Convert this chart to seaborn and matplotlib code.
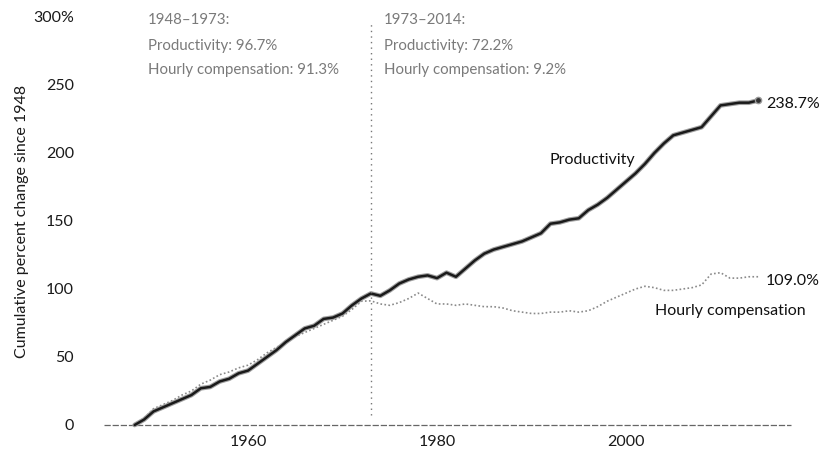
import numpy as np
import pandas as pd
import matplotlib
matplotlib.use('Agg')
import matplotlib.pyplot as plt
import seaborn as sns

years = list(range(1948, 2015))

productivity = [0, 4, 10, 13, 16, 19, 22, 27, 28, 32, 34, 38, 40, 45, 50, 55, 61, 66, 71, 73,
                78, 79, 82, 88, 93, 96.7, 95, 99, 104, 107, 109, 110, 108, 112, 109, 115, 121, 126,
                129, 131, 133, 135, 138, 141, 148, 149, 151, 152, 158, 162, 167, 173, 179, 185,
                192, 200, 207, 213, 215, 217, 219, 227, 235, 236, 237, 237, 238.7]

compensation = [0, 5, 12, 15, 18, 22, 25, 30, 33, 37, 39, 42, 44, 48, 53, 57, 61, 65, 68, 71,
                74, 77, 80, 85, 91, 91.3, 89, 88, 90, 93, 97, 93, 89, 89, 88, 89, 88, 87, 87, 86,
                84, 83, 82, 82, 83, 83, 84, 83, 84, 87, 91, 94, 97, 100, 102, 101, 99, 99, 100,
                101, 103, 111, 112, 108, 108, 109, 109.0]

y_ticks = [0, 50, 100, 150, 200, 250, 300]
x_ticks = [1960, 1980, 2000]

df = pd.DataFrame({'year': years, 'Productivity': productivity,
                   'Hourly compensation': compensation})

sns.set_style("white")
plt.rcParams['font.family'] = ['Lato', 'DejaVu Sans']

W, H = 822, 451
fig = plt.figure(figsize=(W / 100, H / 100), dpi=100)
ax = fig.add_axes([104.4 / W, 26 / H, (791.4 - 104.4) / W, (425 - 17) / H])

def fx(px):
    return px / W

def fy(py):
    return 1 - py / H

# hourly compensation: thin dotted grey
sns.lineplot(data=df, x='year', y='Hourly compensation', ax=ax, color='#8a8a8a',
             lw=1.2, linestyle=(0, (1, 1.4)), clip_on=False)
# productivity: dark line with a grey halo
sns.lineplot(data=df, x='year', y='Productivity', ax=ax, color='#a0a0a0', lw=3.4,
             clip_on=False, solid_capstyle='round')
sns.lineplot(data=df, x='year', y='Productivity', ax=ax, color='#1a1a1a', lw=1.8,
             clip_on=False, solid_capstyle='round')
ax.plot([years[-1]], [productivity[-1]], 'o', ms=4.5, color='#333333',
        markeredgecolor='#999999', clip_on=False)

ax.set_xlim(1944.8, 2017.5)
ax.set_ylim(0, 300)

for s in ax.spines.values():
    s.set_visible(False)
ax.axhline(0, color='#666666', lw=0.9, linestyle=(0, (5, 1.5)), clip_on=False, zorder=0)
ax.plot([1973, 1973], [7, 297], color='#777777', lw=1, linestyle=(0, (1, 3)), clip_on=False)

ax.set_xticks(x_ticks)
ax.set_xticklabels([str(t) for t in x_ticks])
ax.set_yticks(y_ticks)
ax.set_yticklabels([f'{t}%' if t == 300 else str(t) for t in y_ticks])
ax.tick_params(axis='x', length=5, width=0.8, color='#888888', pad=2, labelsize=11.5,
               labelcolor='#1a1a1a')
ax.tick_params(axis='y', length=0, pad=22, labelsize=11.5, labelcolor='#1a1a1a')
ax.set_xlabel('')
ax.set_ylabel('Cumulative percent change since 1948', fontsize=11.5, color='#1a1a1a',
              labelpad=8)
ax.yaxis.set_label_coords(-0.11, 0.5)

grey = '#7a7a7a'
for txt, yy in [('1948–1973:', 20), ('Productivity: 96.7%', 46),
                ('Hourly compensation: 91.3%', 70)]:
    fig.text(fx(148), fy(yy), txt, fontsize=10.8, color=grey, va='center', ha='left')
for txt, yy in [('1973–2014:', 20), ('Productivity: 72.2%', 46),
                ('Hourly compensation: 9.2%', 70)]:
    fig.text(fx(384), fy(yy), txt, fontsize=10.8, color=grey, va='center', ha='left')

fig.text(fx(592), fy(160), 'Productivity', fontsize=11.5, color='#111111',
         ha='center', va='center')
fig.text(fx(766), fy(104), '238.7%', fontsize=11.5, color='#111111', ha='left', va='center')
fig.text(fx(766), fy(281), '109.0%', fontsize=11.5, color='#111111', ha='left', va='center')
fig.text(fx(730), fy(311), 'Hourly compensation', fontsize=11.5, color='#111111',
         ha='center', va='center')

ax.get_legend() and ax.get_legend().remove()
fig.savefig('out.png', dpi=100)
